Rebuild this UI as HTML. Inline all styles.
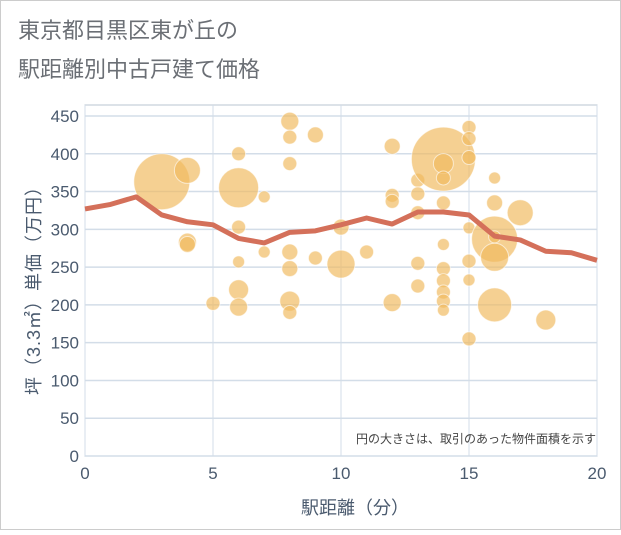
<!DOCTYPE html>
<html><head><meta charset="utf-8"><style>
body{margin:0;background:#fff;}
svg text{font-family:"Liberation Sans","Noto Sans CJK JP",sans-serif;}
</style></head><body>
<svg id="chart" width="621" height="530" xmlns="http://www.w3.org/2000/svg">
<rect x="0.5" y="0.5" width="620" height="529" fill="#fff" stroke="#ccc"/>
<text x="18" y="38" font-size="22" fill="#6b6f75">東京都目黒区東が丘の</text>
<text x="18" y="77" font-size="22" fill="#6b6f75">駅距離別中古戸建て価格</text>
<g id="grid"></g>
<g id="bubbles"></g>
<g id="line"></g>
<g id="axes"></g>
<text x="596" y="443" font-size="12" fill="#444" text-anchor="end">円の大きさは、取引のあった物件面積を示す</text>
<text x="355" y="514" font-size="18" fill="#4a5a6e" text-anchor="middle">駅距離（分）</text>
<text transform="translate(40,286) rotate(-90)" font-size="18" fill="#4a5a6e" text-anchor="middle" letter-spacing="1">坪（3.3㎡）単価（万円）</text>
</svg>
<script>
const xTicks=[0,5,10,15,20];
const yTicks=[0,50,100,150,200,250,300,350,400,450];
const lineX=[0,1,2,3,4,5,6,7,8,9,10,11,12,13,14,15,16,17,18,19,20];
const lineY=[327,333,343,319,310,306,288,282,296,298,306,315,307,323,323,319,291,286,271,269,259];
const bubX=[3,4,4,4,5,6,6,6,6,6,6,7,7,8,8,8,8,8,8,8,9,9,10,10,11,12,12,12,12,13,13,13,13,13,14,14,14,14,14,14,14,14,14,14,15,15,15,15,15,15,15,16,16,16,16,16,16,17,18];
const bubY=[363,378,283,280,202,355,400,303,257,220,197,343,270,443,422,387,270,248,205,190,425,262,254,303,270,410,345,337,203,365,347,322,255,225,393,387,368,335,280,248,232,217,205,193,435,420,395,302,258,233,155,368,335,287,290,263,200,322,180];
const bubR=[28,13,9,8,7,20,7,7,6,10,9,6,6,9,7,7,8,8,10,7,8,7,14,8,7,8,7,7,9,7,7,7,7,7,32,10,7,7,6,7,7,7,7,6,7,7,7,6,7,6,7,6,8,23,6,14,17,13,10];
const X0=85,X1=597,Y0=456,Y1=116;
const sx=v=>X0+(v-0)/20*(X1-X0);
const sy=v=>Y0-(v/450)*(Y0-Y1);
const NS="http://www.w3.org/2000/svg";
function mk(t,a,p){const e=document.createElementNS(NS,t);for(const k in a)e.setAttribute(k,a[k]);p.appendChild(e);return e;}
const grid=document.getElementById('grid'),axes=document.getElementById('axes');
const bg=mk('rect',{x:X0,y:105,width:X1-X0,height:Y0-105,fill:'none',stroke:'#b8c4d0'},grid);


yTicks.forEach(v=>{
 const l=mk('line',{x1:X0,x2:X1,y1:sy(v),y2:sy(v),stroke:'#d3dde8','stroke-width':1.5},grid);
 
 
 const t=mk('text',{x:X0-6,y:sy(v)+6,'font-size':17,fill:'#4a5a6e','text-anchor':'end'},axes);
 t.textContent=v;
 
 
});
xTicks.forEach(v=>{
 const l=mk('line',{x1:sx(v),x2:sx(v),y1:105,y2:Y0,stroke:'#d3dde8','stroke-width':1},grid);
 
 
 const t=mk('text',{x:sx(v),y:Y0+23,'font-size':17,fill:'#4a5a6e','text-anchor':'middle'},axes);
 t.textContent=v;
 
 
});
const bb=document.getElementById('bubbles');
bubX.forEach((x,i)=>{
 const c=mk('circle',{cx:sx(x),cy:sy(bubY[i]),r:bubR[i],fill:'rgba(240,185,95,0.68)',stroke:'rgba(255,255,255,0.6)','stroke-width':1},bb);
 
 
});
const pts=lineX.map((x,i)=>sx(x)+','+sy(lineY[i])).join(' ');
const pl=mk('polyline',{points:pts,fill:'none',stroke:'#d4705a','stroke-width':5,'stroke-linejoin':'round'},document.getElementById('line'));


</script>
</body></html>
